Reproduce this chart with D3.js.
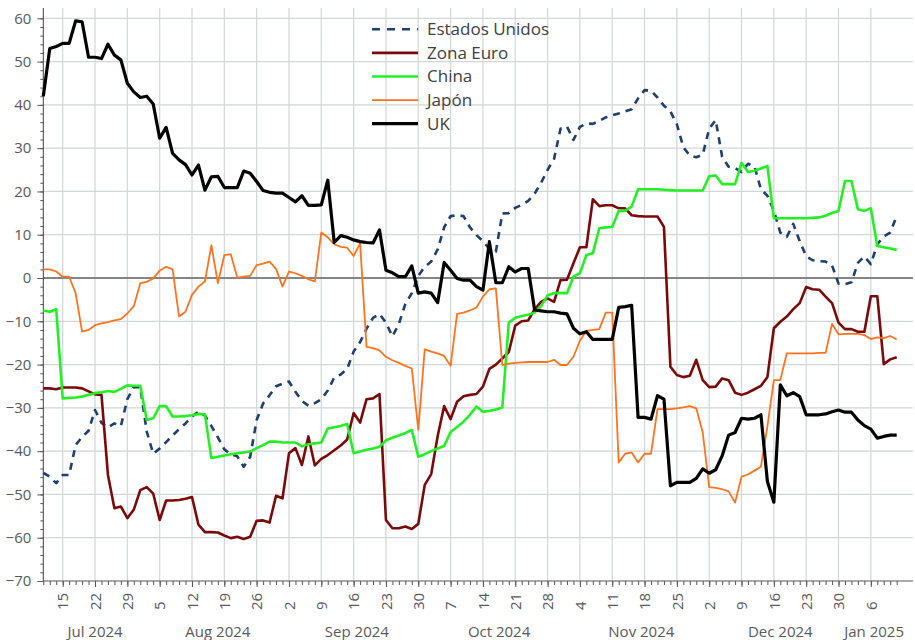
<!DOCTYPE html>
<html>
<head>
<meta charset="utf-8">
<script src="https://cdn.jsdelivr.net/npm/d3@7"></script>
<style>
  body { margin: 0; background: #fff; }
  text { font-family: "Open Sans", sans-serif; }
</style>
</head>
<body>
<div id="chart"></div>
<script>
const width = 915, height = 640;

// business days, 10 Jul 2024 .. 10 Jan 2025
const firstDay = new Date(2024, 6, 10);
const lastDay = new Date(2025, 0, 11);

const seriesNames = ["Estados Unidos", "Zona Euro", "China", "Japón", "UK"];

const usValues = [
  -45.0,-45.9,-47.4,-45.5,-45.5,-38.6,-36.7,-35.3,-30.5,-33.5,
  -34.5,-33.6,-34.2,-28.0,-25.2,-25.2,-35.5,-40.6,-39.4,-37.9,
  -36.4,-34.9,-33.6,-32.0,-30.9,-31.8,-34.2,-36.8,-39.6,-40.7,
  -41.2,-43.6,-41.3,-32.8,-29.0,-27.1,-25.0,-24.4,-23.9,-26.3,
  -28.4,-29.5,-28.9,-28.0,-26.0,-23.0,-22.3,-21.0,-17.0,-14.8,
  -11.7,-9.2,-8.3,-10.3,-13.5,-10.6,-6.0,-3.5,0.5,2.6,
  3.8,6.6,11.7,14.3,14.5,14.3,11.7,9.9,8.5,6.7,
  6.1,14.9,15.0,16.2,16.9,17.8,19.5,22.0,25.0,27.5,
  34.5,35.0,31.9,34.9,35.7,35.6,36.3,37.1,37.6,38.0,
  38.5,39.0,41.5,43.4,43.3,41.7,39.8,38.5,35.5,30.2,
  28.3,27.9,28.5,34.5,36.5,28.0,25.7,25.4,24.5,26.4,
  25.8,20.5,19.0,15.5,10.5,9.5,12.5,8.5,5.0,4.1,
  3.9,3.8,2.9,-1.3,-1.4,-1.0,3.5,5.0,3.2,7.8,
  9.6,10.5,14.3
];

const euroValues = [
  -25.5,-25.5,-25.7,-25.3,-25.3,-25.3,-25.5,-26.2,-26.9,-27.0,
  -45.5,-53.2,-52.8,-55.5,-53.5,-49.0,-48.3,-49.8,-55.9,-51.4,
  -51.4,-51.3,-51.0,-50.6,-57.0,-58.7,-58.7,-58.8,-59.5,-60.1,
  -59.8,-60.3,-59.8,-56.1,-56.0,-56.5,-50.3,-50.9,-40.5,-39.3,
  -43.2,-36.6,-43.3,-41.8,-40.9,-39.8,-38.7,-37.3,-31.2,-33.4,
  -28.0,-27.8,-26.8,-55.9,-57.8,-57.8,-57.4,-58.0,-56.8,-47.8,
  -45.3,-36.5,-29.6,-32.6,-28.6,-27.3,-27.0,-26.8,-25.1,-21.0,
  -20.0,-18.6,-17.1,-11.0,-10.0,-9.8,-7.2,-5.5,-4.7,-5.5,
  -0.5,-0.4,3.4,7.1,7.1,18.2,16.6,16.8,16.8,16.1,
  16.1,14.5,14.3,14.2,14.2,14.2,11.8,-20.5,-22.4,-22.9,
  -22.6,-18.9,-23.6,-25.2,-25.1,-23.2,-23.6,-26.5,-27.0,-26.5,
  -25.7,-24.9,-22.9,-11.6,-10.1,-8.9,-7.2,-5.8,-2.1,-2.6,
  -2.7,-4.3,-5.8,-10.3,-11.8,-11.8,-12.4,-12.4,-4.2,-4.2,
  -19.9,-18.8,-18.3
];

const chinaValues = [
  -7.5,-7.8,-7.2,-27.8,-27.7,-27.6,-27.4,-27.0,-26.6,-26.4,
  -26.1,-26.3,-25.6,-24.8,-24.9,-24.9,-32.8,-32.4,-29.6,-29.6,
  -32.0,-32.0,-31.9,-31.7,-31.4,-31.5,-41.6,-41.3,-41.0,-40.7,
  -40.5,-40.3,-40.1,-39.3,-38.6,-37.8,-37.8,-38.0,-38.0,-38.0,
  -38.9,-38.4,-38.2,-38.0,-34.8,-34.5,-34.2,-33.7,-40.5,-40.1,
  -39.7,-39.4,-39.0,-37.5,-36.9,-36.4,-35.8,-35.1,-41.3,-40.7,
  -40.0,-39.4,-38.8,-35.6,-34.4,-33.2,-31.6,-29.7,-30.9,-30.7,
  -30.4,-29.9,-10.3,-9.2,-8.8,-8.5,-8.0,-6.5,-4.0,-3.5,
  -3.5,-3.5,0.3,1.1,5.3,5.7,11.5,11.7,11.8,15.5,
  15.5,16.5,20.5,20.5,20.5,20.5,20.4,20.3,20.2,20.2,
  20.2,20.2,20.2,23.5,23.7,21.7,21.7,21.7,26.6,24.5,
  24.8,25.3,25.9,13.8,13.8,13.8,13.8,13.8,13.8,13.9,
  14.0,14.4,15.0,15.5,22.4,22.4,15.9,15.5,16.1,7.4,
  7.1,6.8,6.5
];

const japanValues = [
  2.0,2.0,1.5,0.3,0.3,-3.5,-12.4,-12.0,-10.9,-10.5,
  -10.2,-9.8,-9.5,-8.2,-6.5,-1.2,-0.9,-0.1,1.7,2.6,
  2.0,-8.9,-7.8,-3.9,-2.0,-0.8,7.6,-1.2,5.3,5.5,
  0.1,0.3,0.5,3.0,3.3,3.8,2.1,-2.0,1.5,1.1,
  0.5,-0.3,-0.8,10.5,9.4,7.8,7.2,7.0,5.1,8.0,
  -15.9,-16.2,-16.7,-18.2,-19.0,-19.6,-20.3,-20.9,-35.1,-16.5,
  -17.0,-17.4,-18.0,-20.3,-8.3,-8.0,-7.5,-6.8,-4.3,-2.6,
  -2.4,-20.1,-19.8,-19.6,-19.5,-19.4,-19.4,-19.4,-19.4,-18.9,
  -20.1,-20.1,-18.2,-14.5,-12.2,-12.0,-11.8,-8.0,-8.0,-42.6,
  -40.6,-40.3,-42.6,-40.6,-40.6,-30.3,-30.3,-30.3,-30.1,-29.9,
  -29.6,-30.1,-35.7,-48.3,-48.5,-48.8,-49.3,-51.9,-45.9,-45.4,
  -44.5,-43.6,-34.3,-23.6,-23.6,-17.4,-17.4,-17.4,-17.4,-17.4,
  -17.3,-17.3,-10.6,-13.0,-12.9,-12.9,-12.9,-13.2,-14.1,-13.7,
  -13.9,-13.4,-14.2
];

const ukValues = [
  42,53,53.5,54.2,54.2,59.4,59.2,51,51,50.7,
  54,51.5,50.4,45,43,41.7,42,40.2,32.3,34.8,
  28.8,27.3,26.2,23.8,26.1,20.3,23.4,23.5,20.9,20.9,
  20.9,24.7,24.2,22.3,20.2,19.8,19.6,19.6,18.6,17.6,
  19.0,16.8,16.8,16.9,22.6,8.2,9.8,9.4,8.8,8.4,
  8.2,8.1,11.1,1.8,1.2,0.3,0.3,2.8,-3.5,-3.2,
  -3.5,-5.7,3.6,1.8,-0.1,-0.5,-0.5,-2.0,-2.8,8.4,
  -1.1,-1.1,2.6,1.4,2.2,2.2,-7.4,-7.6,-7.8,-7.8,
  -8.1,-8.3,-11.6,-12.9,-12.4,-14.2,-14.2,-14.2,-14.2,-6.8,
  -6.6,-6.3,-32.2,-32.2,-32.6,-27.2,-28.0,-48.0,-47.2,-47.2,
  -47.2,-46.3,-44.1,-45.1,-44.3,-41.1,-36.3,-35.7,-32.4,-32.6,
  -32.4,-31.6,-47.0,-51.8,-24.7,-27.2,-26.5,-27.4,-31.6,-31.6,
  -31.6,-31.4,-30.9,-30.5,-31.0,-31.0,-32.8,-34.1,-34.9,-37.0,
  -36.6,-36.3,-36.3
];

const yTicks = [-70, -60, -50, -40, -30, -20, -10, 0, 10, 20, 30, 40, 50, 60];
const monthNames = ["Jan","Feb","Mar","Apr","May","Jun","Jul","Aug","Sep","Oct","Nov","Dec"];

const series = [
  {name: seriesNames[0], values: usValues,    color: "#1f3f6c", width: 2.6, dash: "7,6"},
  {name: seriesNames[1], values: euroValues,  color: "#7a0a0a", width: 2.6, dash: null},
  {name: seriesNames[2], values: chinaValues, color: "#22f022", width: 2.6, dash: null},
  {name: seriesNames[3], values: japanValues, color: "#ff7320", width: 1.8, dash: null},
  {name: seriesNames[4], values: ukValues,    color: "#000000", width: 3.2, dash: null}
];

// weekday axis
const dates = d3.timeDays(firstDay, lastDay).filter(d => d.getDay() % 6 !== 0);

const plotLeft = 43.3, plotRight = 913, plotTop = 8, plotBottom = 581;

let svg = d3.select("#chart")
  .append("svg")
  .attr("width", width)
  .attr("height", height);

let x = d3.scaleLinear()
  .domain([0, dates.length - 1])
  .range([plotLeft, 896.7]);

let y = d3.scaleLinear()
  .domain([-70, 60])
  .range([plotBottom, 18.3]);

const mondays = d3.range(dates.length).filter(i => dates[i].getDay() === 1);

// gridlines
let grid = svg.append("g");
grid.selectAll("line.h")
  .data(yTicks.filter(v => v !== 0 && v !== -70))
  .enter().append("line")
  .attr("x1", plotLeft).attr("x2", plotRight)
  .attr("y1", d => y(d)).attr("y2", d => y(d))
  .attr("stroke", "#d2d6d6").attr("stroke-width", 1.2);
grid.selectAll("line.v")
  .data(mondays)
  .enter().append("line")
  .attr("x1", d => x(d)).attr("x2", d => x(d))
  .attr("y1", plotTop).attr("y2", plotBottom)
  .attr("stroke", "#d2d6d6").attr("stroke-width", 1.2);

// zero line
svg.append("line")
  .attr("x1", plotLeft).attr("x2", plotRight)
  .attr("y1", y(0)).attr("y2", y(0))
  .attr("stroke", "#858585").attr("stroke-width", 2);

// y axis
let yAxis = svg.append("g")
  .attr("transform", `translate(${plotLeft},0)`)
  .call(d3.axisLeft(y).tickValues(yTicks).tickSize(6).tickPadding(6));
yAxis.select(".domain").remove();
yAxis.selectAll("text")
  .style("font-size", "15px")
  .attr("fill", "#595959");
yAxis.selectAll(".tick line").attr("stroke", "#595959");

svg.append("g")
  .attr("transform", `translate(${plotLeft},0)`)
  .call(d3.axisLeft(y).tickValues(d3.range(-70, 61, 2)).tickSize(3).tickFormat(""))
  .call(g => g.select(".domain").remove())
  .selectAll("line").attr("stroke", "#595959");

svg.append("line")
  .attr("x1", plotLeft).attr("x2", plotLeft)
  .attr("y1", plotTop).attr("y2", plotBottom)
  .attr("stroke", "#404040").attr("stroke-width", 1);

// x axis
let xMinor = svg.append("g")
  .attr("transform", `translate(0,${plotBottom})`)
  .call(d3.axisBottom(x).tickValues(d3.range(dates.length)).tickSize(4).tickFormat(""));
xMinor.select(".domain").remove();
xMinor.selectAll("line").attr("stroke", "#595959");

let xAxis = svg.append("g")
  .attr("transform", `translate(0,${plotBottom})`)
  .call(d3.axisBottom(x).tickValues(mondays).tickSize(6).tickFormat(i => dates[i].getDate()));
xAxis.select(".domain").remove();
xAxis.selectAll(".tick line").attr("stroke", "#595959");
xAxis.selectAll("text")
  .attr("transform", "translate(0,29) rotate(-90)")
  .attr("x", 0).attr("y", 0).attr("dy", "0.35em")
  .style("text-anchor", "start")
  .style("font-size", "15px")
  .attr("fill", "#595959");

svg.append("line")
  .attr("x1", plotLeft).attr("x2", plotRight)
  .attr("y1", plotBottom).attr("y2", plotBottom)
  .attr("stroke", "#595959").attr("stroke-width", 1.2);

// month labels centred on their span
let months = [];
dates.forEach((d, i) => {
  let key = d.getFullYear() * 12 + d.getMonth();
  if (months.length === 0 || months[months.length - 1].key !== key) {
    months.push({key: key, start: i, label: monthNames[d.getMonth()] + " " + d.getFullYear()});
  }
});
months.forEach((m, k) => {
  m.end = k < months.length - 1 ? months[k + 1].start : dates.length - 1;
});
svg.append("g").selectAll("text")
  .data(months)
  .enter().append("text")
  .attr("x", d => (x(d.start) + x(d.end)) / 2)
  .attr("y", 637)
  .style("text-anchor", "middle")
  .style("font-size", "15px")
  .attr("fill", "#595959")
  .text(d => d.label);

// lines
let line = d3.line()
  .x((d, i) => x(i))
  .y(d => y(d));

svg.append("g").selectAll("path")
  .data(series)
  .enter().append("path")
  .attr("d", d => line(d.values))
  .attr("fill", "none")
  .attr("stroke", d => d.color)
  .attr("stroke-width", d => d.width)
  .attr("stroke-dasharray", d => d.dash)
  .attr("stroke-linejoin", "round");

// legend
let legend = svg.append("g").selectAll("g")
  .data(series)
  .enter().append("g")
  .attr("transform", (d, i) => `translate(372,${29.3 + i * 23.6})`);
legend.append("line")
  .attr("x1", 0).attr("x2", 46)
  .attr("stroke", d => d.color)
  .attr("stroke-width", d => d.width)
  .attr("stroke-dasharray", d => d.dash ? "8,7" : null);
legend.append("text")
  .attr("x", 55)
  .attr("dy", "0.35em")
  .style("font-size", "17px")
  .attr("fill", "#404040")
  .text(d => d.name);
</script>
</body>
</html>
